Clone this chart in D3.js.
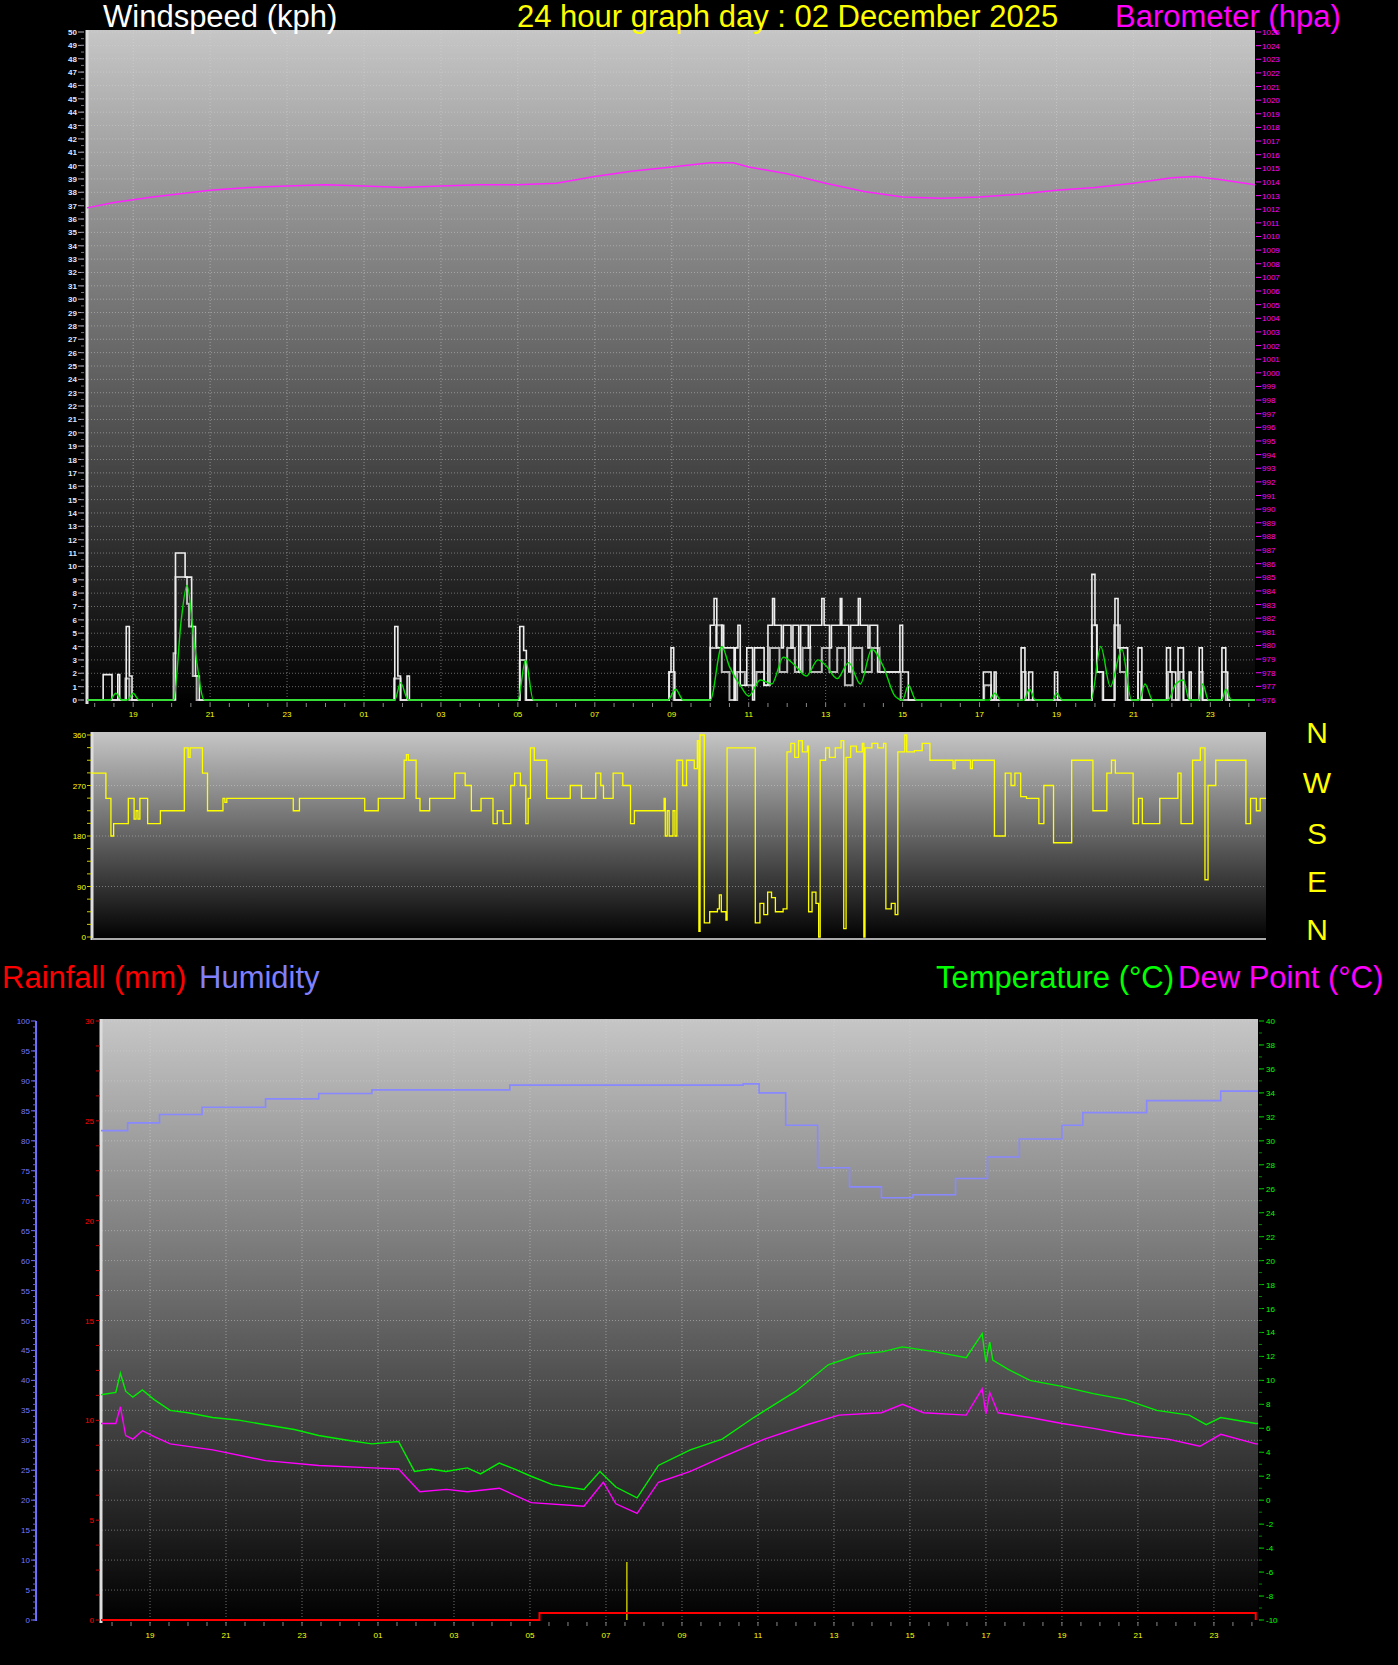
<!DOCTYPE html>
<html><head><meta charset="utf-8">
<script src="https://cdn.jsdelivr.net/npm/d3@7"></script>
<style>body{margin:0;background:#000}svg{display:block}text{font-family:"Liberation Sans",Arial,sans-serif}</style>
</head><body>
<script>
// hours since 18:00 of previous day (19:00 -> 1)
const hourLabels=["19","21","23","01","03","05","07","09","11","13","15","17","19","21","23"];
const hourTicks=[1,3,5,7,9,11,13,15,17,19,21,23,25,27,29];
const baro=[[-0.2,1012.1],[0.5,1012.5],[1.5,1012.9],[3,1013.4],[4,1013.6],[5,1013.7],[6,1013.8],[7,1013.7],[8,1013.6],[9,1013.7],[10,1013.8],[11,1013.8],[12,1013.9],[13,1014.4],[14,1014.8],[15,1015.1],[16,1015.4],[16.6,1015.4],[17,1015.1],[18,1014.6],[19,1013.9],[20,1013.3],[21,1012.9],[22,1012.8],[23,1012.9],[24,1013.1],[25,1013.4],[26,1013.6],[27,1013.9],[28,1014.3],[28.6,1014.4],[29.2,1014.2],[30.16,1013.8]];
const gust=[[-0.2,0],[0.22,1.9],[0.45,0],[0.6,1.9],[0.65,0],[0.82,5.5],[0.9,1.8],[0.97,0],[2.1,11],[2.35,9.2],[2.52,5.5],[2.62,1.8],[2.72,0],[7.8,5.5],[7.88,1.8],[7.95,0],[8.12,1.8],[8.18,0],[11.05,5.5],[11.15,3.7],[11.22,0],[14.93,2.1],[14.98,3.9],[15.05,2.1],[15.08,0],[16.0,5.6],[16.1,7.6],[16.17,3.9],[16.3,5.6],[16.35,3.9],[16.62,0],[16.65,3.9],[16.72,5.6],[16.78,1.1],[16.95,3.9],[17.1,0],[17.15,3.9],[17.4,1.1],[17.5,5.6],[17.62,7.6],[17.67,5.6],[17.85,3.9],[17.9,5.6],[18.1,3.9],[18.15,5.6],[18.3,2.1],[18.35,5.6],[18.55,3.9],[18.6,5.6],[18.9,7.6],[18.96,5.6],[19.1,3.9],[19.15,5.6],[19.38,7.6],[19.42,5.6],[19.6,2.1],[19.65,5.6],[19.85,7.6],[19.9,5.6],[20.1,3.9],[20.15,5.6],[20.35,2.1],[20.55,2.1],[20.93,5.6],[21.0,2.1],[21.15,0],[23.1,2.1],[23.3,0],[23.38,2.1],[23.43,0],[24.08,3.9],[24.18,0],[24.28,2.1],[24.38,0],[24.95,2.1],[25.03,0],[25.92,9.4],[26.0,5.6],[26.05,2.1],[26.22,0],[26.52,7.6],[26.6,3.9],[26.85,0],[27.12,3.9],[27.22,0],[27.86,3.9],[27.96,2.1],[28.1,0],[28.16,3.9],[28.3,0],[28.45,2.1],[28.5,0],[28.71,3.9],[28.79,0],[29.3,3.9],[29.4,2.1],[29.45,0],[30.16,0]];
const avg=[[-0.2,0],[0.8,1.6],[0.9,0],[2.05,3.5],[2.1,9.2],[2.4,7.2],[2.45,5.5],[2.55,1.8],[2.65,0],[7.78,1.6],[7.95,0],[11.05,3],[11.2,0],[14.93,2.1],[15.05,0],[16.0,3.9],[16.15,5.6],[16.3,2.1],[16.5,0],[16.7,2.1],[16.9,1.1],[17.2,2.1],[17.4,1.1],[17.55,3.9],[17.8,2.1],[18.0,3.9],[18.2,2.1],[18.4,3.9],[18.6,2.1],[18.9,3.9],[19.1,2.1],[19.3,3.9],[19.5,1.1],[19.7,3.9],[19.95,2.1],[20.2,3.9],[20.4,2.1],[20.7,2.1],[20.95,0],[23.12,1.1],[23.3,0],[24.1,2.1],[24.2,0],[25.92,5.6],[26.05,2.1],[26.2,0],[26.5,5.6],[26.65,2.1],[26.8,0],[27.12,2.1],[27.2,0],[27.9,2.1],[28.0,0],[28.2,2.1],[28.3,0],[28.72,2.1],[28.8,0],[29.3,2.1],[29.4,0],[30.16,0]];
const avgSmooth=[[-0.2,0],[0.4,0],[0.55,0.5],[0.7,0],[0.85,0],[1.0,0.5],[1.15,0],[2.05,0],[2.25,6],[2.4,8.6],[2.6,4],[2.85,0],[7.8,0],[7.95,1.3],[8.15,0],[11.0,0],[11.2,3],[11.4,0],[14.9,0],[15.1,0.8],[15.3,0],[16.0,0],[16.3,4],[16.5,2.5],[16.8,1],[17.0,0.3],[17.3,1.5],[17.6,1.2],[17.9,3.2],[18.2,2.6],[18.5,1.8],[18.8,3.0],[19.0,2.6],[19.3,1.6],[19.6,2.8],[19.9,1.2],[20.2,3.8],[20.5,2.5],[20.8,0.3],[21.0,0],[21.15,1.1],[21.35,0],[23.25,0],[23.4,0.5],[23.55,0],[24.15,0],[24.3,0.8],[24.45,0],[24.9,0],[25.0,0.5],[25.15,0],[25.9,0],[26.15,4],[26.4,1],[26.7,3.8],[26.95,0],[27.15,0],[27.3,1.2],[27.5,0],[27.9,0],[28.1,1.2],[28.3,1.5],[28.45,0],[28.7,0],[28.8,1.2],[28.95,0],[29.3,0],[29.4,0.8],[29.55,0],[30.16,0]];
const dir=[[-0.19,292],[0.17,247],[0.3,180],[0.37,202],[0.75,247],[0.9,210],[0.95,225],[1.0,210],[1.05,247],[1.25,202],[1.58,225],[2.2,337],[2.3,320],[2.35,337],[2.67,292],[2.8,225],[3.2,247],[3.25,240],[3.3,247],[5.02,225],[5.18,247],[6.87,225],[7.22,247],[7.89,315],[7.95,325],[8.0,315],[8.2,247],[8.3,225],[8.55,247],[9.2,292],[9.47,270],[9.63,225],[9.88,247],[10.19,202],[10.3,225],[10.45,202],[10.65,270],[10.75,292],[10.9,270],[11.04,202],[11.1,247],[11.16,337],[11.26,315],[11.58,247],[12.19,270],[12.48,247],[12.85,292],[12.98,270],[13.05,247],[13.3,292],[13.55,270],[13.75,202],[13.85,225],[14.62,247],[14.65,180],[14.7,225],[14.75,180],[14.85,225],[14.9,180],[14.95,315],[15.1,270],[15.2,315],[15.4,300],[15.48,350],[15.52,10],[15.55,360],[15.62,360],[15.66,25],[15.8,45],[16.0,50],[16.05,75],[16.1,45],[16.22,30],[16.25,337],[16.95,337],[16.98,25],[17.1,60],[17.2,40],[17.3,80],[17.4,70],[17.5,45],[17.7,50],[17.8,330],[17.9,345],[18.0,320],[18.1,350],[18.2,330],[18.33,340],[18.36,45],[18.45,80],[18.55,60],[18.62,0],[18.66,315],[18.8,337],[18.9,320],[19.05,337],[19.2,350],[19.27,15],[19.33,320],[19.45,340],[19.6,330],[19.75,345],[19.79,0],[19.82,337],[20.0,345],[20.15,337],[20.3,345],[20.36,50],[20.5,60],[20.6,40],[20.67,330],[20.85,360],[20.9,330],[21.1,332],[21.3,345],[21.5,315],[22.1,300],[22.15,315],[22.55,300],[22.6,315],[23.12,315],[23.17,180],[23.4,180],[23.45,292],[23.6,270],[23.7,292],[23.85,250],[24.0,247],[24.32,202],[24.45,270],[24.7,168],[25.17,315],[25.72,225],[26.08,292],[26.2,315],[26.3,292],[26.76,202],[26.9,247],[27.0,202],[27.45,247],[27.92,292],[28.0,202],[28.3,315],[28.5,337],[28.62,102],[28.7,270],[28.9,315],[29.68,202],[29.8,247],[29.95,225],[30.05,247],[30.2,247]];
const temp=[[-0.29,8.8],[0.1,9.0],[0.22,10.6],[0.36,9.1],[0.55,8.6],[0.8,9.2],[1.11,8.4],[1.53,7.5],[2.0,7.3],[2.65,6.9],[3.3,6.7],[4.04,6.3],[4.8,5.9],[5.44,5.4],[6.2,5.0],[6.84,4.7],[7.54,4.9],[7.96,2.4],[8.4,2.6],[8.79,2.4],[9.35,2.7],[9.7,2.2],[10.19,3.1],[10.6,2.6],[11.03,2.0],[11.59,1.3],[12.42,0.9],[12.84,2.4],[13.26,1.1],[13.82,0.2],[14.38,2.9],[15.22,4.2],[16.06,5.1],[16.89,6.9],[18.0,9.1],[18.85,11.3],[19.69,12.2],[20.3,12.4],[20.8,12.8],[21.64,12.4],[22.48,11.9],[22.9,13.9],[23.0,11.5],[23.1,13.2],[23.18,11.7],[23.6,10.9],[24.16,10.0],[25.0,9.5],[25.83,8.9],[26.67,8.4],[27.5,7.5],[28.35,7.1],[28.8,6.3],[29.18,6.9],[30.1,6.4],[30.16,6.4]];
const dew=[[-0.29,6.4],[0.1,6.4],[0.22,7.8],[0.36,5.4],[0.55,5.1],[0.8,5.8],[1.11,5.3],[1.53,4.7],[2.65,4.2],[4.04,3.3],[5.44,2.9],[6.84,2.7],[7.54,2.6],[8.1,0.7],[8.8,0.9],[9.35,0.7],[10.19,1.0],[11.03,-0.2],[12.42,-0.5],[12.93,1.5],[13.26,-0.3],[13.82,-1.1],[14.38,1.5],[15.22,2.4],[16.06,3.6],[17.17,5.1],[18.29,6.3],[19.13,7.1],[20.25,7.3],[20.8,8.0],[21.36,7.3],[22.48,7.1],[22.9,9.3],[23.0,7.2],[23.1,9.0],[23.32,7.3],[24.16,6.9],[25.0,6.4],[25.83,6.0],[26.67,5.5],[27.79,5.1],[28.63,4.5],[29.18,5.5],[30.1,4.7],[30.16,4.7]];
const hum=[[-0.29,81.7],[0.41,83],[1.25,84.4],[2.37,85.6],[4.04,87],[5.44,87.9],[6.84,88.5],[10.47,89.3],[16.61,89.5],[17.03,88],[17.73,82.6],[18.57,75.5],[19.41,72.3],[20.25,70.5],[21.08,71],[22.2,73.7],[23.04,77.3],[23.88,80.3],[25.0,82.6],[25.55,84.7],[27.23,86.7],[29.18,88.3],[30.16,88.3]];
const rain=[[-0.29,0],[11.25,0.35],[30.05,0.35],[30.1,0]];
const rainRate=[[13.55,2.9]];

const svg=d3.select("body").append("svg").attr("width",1398).attr("height",1665);
const defs=svg.append("defs");
const g1=defs.append("linearGradient").attr("id","bg").attr("x1",0).attr("x2",0).attr("y1",0).attr("y2",1);
g1.append("stop").attr("offset","0%").attr("stop-color","#c6c6c6");
g1.append("stop").attr("offset","100%").attr("stop-color","#000");

function panel(x0,x1,y0,y1){
  svg.append("rect").attr("x",x0).attr("y",y0).attr("width",x1-x0).attr("height",y1-y0).attr("fill","url(#bg)");
  svg.append("line").attr("x1",x0).attr("x2",x0).attr("y1",y0).attr("y2",y1).attr("stroke","#ddd").attr("stroke-width",3);
}
function hgrid(x0,x1,ys){ys.forEach(y=>svg.append("line").attr("x1",x0).attr("x2",x1).attr("y1",y).attr("y2",y).attr("stroke","#d8d8d8").attr("stroke-opacity",0.45).attr("stroke-dasharray","1,2"));}
function vgrid(xs,y0,y1){xs.forEach(x=>svg.append("line").attr("x1",x).attr("x2",x).attr("y1",y0).attr("y2",y1).attr("stroke","#d8d8d8").attr("stroke-opacity",0.5).attr("stroke-dasharray","1,2"));}
function txt(x,y,s,c,size,anchor){return svg.append("text").attr("x",x).attr("y",y).text(s).attr("fill",c).attr("font-size",size).attr("text-anchor",anchor||"start");}

// ---------- Wind panel ----------
const xW=d3.scaleLinear().domain([-0.2,30.16]).range([87,1255]);
const yW=d3.scaleLinear().domain([0,50]).range([700,32]);
const yB=d3.scaleLinear().domain([976,1025]).range([700,32]);
panel(87,1255,30,704);
hgrid(88,1255,d3.range(1,51).map(yW));
vgrid(hourTicks.map(xW),30,704);
d3.range(0,51).forEach(v=>{txt(77,yW(v)+3,v,"#dde6ff",8,"end").attr("font-weight","bold");
  svg.append("line").attr("x1",78).attr("x2",84).attr("y1",yW(v)).attr("y2",yW(v)).attr("stroke","#aab");});
d3.range(0,50,0.5).forEach(v=>svg.append("line").attr("x1",81).attr("x2",84).attr("y1",yW(v)).attr("y2",yW(v)).attr("stroke","#778"));
d3.range(976,1026).forEach(v=>{txt(1262,yB(v)+3,v,"#ff00ff",8);
  svg.append("line").attr("x1",1256).attr("x2",1261).attr("y1",yB(v)).attr("y2",yB(v)).attr("stroke","#ff00ff");});
hourTicks.forEach((h,i)=>txt(xW(h),717,hourLabels[i],"#ffff00",8,"middle"));
d3.range(0,30.1,0.5).forEach(h=>svg.append("line").attr("x1",xW(h)).attr("x2",xW(h)).attr("y1",703).attr("y2",707).attr("stroke","#888"));
const lW=d3.line().x(d=>xW(d[0])).y(d=>yW(d[1]));
svg.append("path").attr("d",lW.curve(d3.curveStepAfter)(avg)).attr("fill","none").attr("stroke","#b8b8b8").attr("stroke-width",2);
svg.append("path").attr("d",lW.curve(d3.curveStepAfter)(gust)).attr("fill","none").attr("stroke","#eeeeee").attr("stroke-width",1.6);
svg.append("path").attr("d",d3.line().x(d=>xW(d[0])).y(d=>yW(d[1])).curve(d3.curveMonotoneX)(avgSmooth)).attr("fill","none").attr("stroke","#00dd00").attr("stroke-width",1.4);
const lB=d3.line().x(d=>xW(d[0])).y(d=>yB(d[1])).curve(d3.curveLinear);
svg.append("path").attr("d",lB(baro)).attr("fill","none").attr("stroke","#ff22ff").attr("stroke-width",1.5);
txt(103,27,"Windspeed (kph)","#ffffff",31);
txt(517,27,"24 hour graph day : 02 December 2025","#ffff00",31);
txt(1115,27,"Barometer (hpa)","#ff00ff",31);

// ---------- Direction panel ----------
const xD=d3.scaleLinear().domain([-0.19,30.2]).range([92,1266]);
const yD=d3.scaleLinear().domain([0,360]).range([937,735]);
panel(92,1266,732,940);
hgrid(93,1266,[90,180,270].map(yD));
[0,90,180,270,360].forEach(v=>txt(86,yD(v)+3,v,"#ffff00",8,"end"));
d3.range(0,361,22.5).forEach(v=>svg.append("line").attr("x1",87).attr("x2",91).attr("y1",yD(v)).attr("y2",yD(v)).attr("stroke","#cc0"));
svg.append("line").attr("x1",92).attr("x2",1266).attr("y1",939).attr("y2",939).attr("stroke","#aaa").attr("stroke-width",2);
svg.append("path").attr("d",d3.line().x(d=>xD(d[0])).y(d=>yD(d[1])).curve(d3.curveStepAfter)(dir)).attr("fill","none").attr("stroke","#ffff00").attr("stroke-width",1.3);
[["N",732],["W",782],["S",833],["E",881],["N",929]].forEach(d=>txt(1317,d[1]+11,d[0],"#ffff00",30,"middle"));

// ---------- Bottom panel ----------
txt(2,988,"Rainfall (mm)","#ff0000",31);
txt(199,988,"Humidity","#8080ff",31);
txt(936,988,"Temperature (°C)","#00ff00",31);
txt(1178,988,"Dew Point (°C)","#ff00ff",31);
const xT=d3.scaleLinear().domain([-0.29,30.16]).range([101,1258]);
const yT=d3.scaleLinear().domain([-10,40]).range([1620,1021]);
const yR=d3.scaleLinear().domain([0,30]).range([1620,1021]);
const yH=d3.scaleLinear().domain([0,100]).range([1620,1021]);
panel(101,1258,1019,1623);
hgrid(102,1258,d3.range(5,101,5).map(yH));
vgrid(hourTicks.map(xT),1019,1623);
svg.append("line").attr("x1",36).attr("x2",36).attr("y1",1021).attr("y2",1621).attr("stroke","#7070ff").attr("stroke-width",2);
d3.range(0,101,5).forEach(v=>{txt(30,yH(v)+3,v,"#7777ff",8,"end");
  svg.append("line").attr("x1",31).attr("x2",36).attr("y1",yH(v)).attr("y2",yH(v)).attr("stroke","#7070ff");});
d3.range(0,100,1).forEach(v=>svg.append("line").attr("x1",33).attr("x2",36).attr("y1",yH(v)).attr("y2",yH(v)).attr("stroke","#6060dd"));
d3.range(0,31,5).forEach(v=>txt(94,yR(v)+3,v,"#ff0000",8,"end"));
d3.range(0,31,1.25).forEach(v=>svg.append("line").attr("x1",96).attr("x2",100).attr("y1",yR(v)).attr("y2",yR(v)).attr("stroke","#c00"));
d3.range(-10,41,2).forEach(v=>{txt(1266,yT(v)+3,v,"#00ff00",8);
  svg.append("line").attr("x1",1259).attr("x2",1264).attr("y1",yT(v)).attr("y2",yT(v)).attr("stroke","#00cc00");});
d3.range(-10,40,1).forEach(v=>svg.append("line").attr("x1",1259).attr("x2",1262).attr("y1",yT(v)).attr("y2",yT(v)).attr("stroke","#008800"));
hourTicks.forEach((h,i)=>txt(xT(h),1638,hourLabels[i],"#ffff00",8,"middle"));
d3.range(0,30.1,0.5).forEach(h=>svg.append("line").attr("x1",xT(h)).attr("x2",xT(h)).attr("y1",1622).attr("y2",1626).attr("stroke","#888"));
rainRate.forEach(d=>svg.append("line").attr("x1",xT(d[0])).attr("x2",xT(d[0])).attr("y1",yR(0)).attr("y2",yR(d[1])).attr("stroke","#dddd00").attr("stroke-width",1.3));
svg.append("path").attr("d",d3.line().x(d=>xT(d[0])).y(d=>yH(d[1])).curve(d3.curveStepAfter)(hum)).attr("fill","none").attr("stroke","#8888ff").attr("stroke-width",1.6);
svg.append("path").attr("d",d3.line().x(d=>xT(d[0])).y(d=>yT(d[1])).curve(d3.curveLinear)(dew)).attr("fill","none").attr("stroke","#ff00ff").attr("stroke-width",1.4);
svg.append("path").attr("d",d3.line().x(d=>xT(d[0])).y(d=>yT(d[1])).curve(d3.curveLinear)(temp)).attr("fill","none").attr("stroke","#00ee00").attr("stroke-width",1.4);
svg.append("path").attr("d",d3.line().x(d=>xT(d[0])).y(d=>yR(d[1])).curve(d3.curveStepAfter)(rain)).attr("fill","none").attr("stroke","#ff0000").attr("stroke-width",2);
</script></body></html>
